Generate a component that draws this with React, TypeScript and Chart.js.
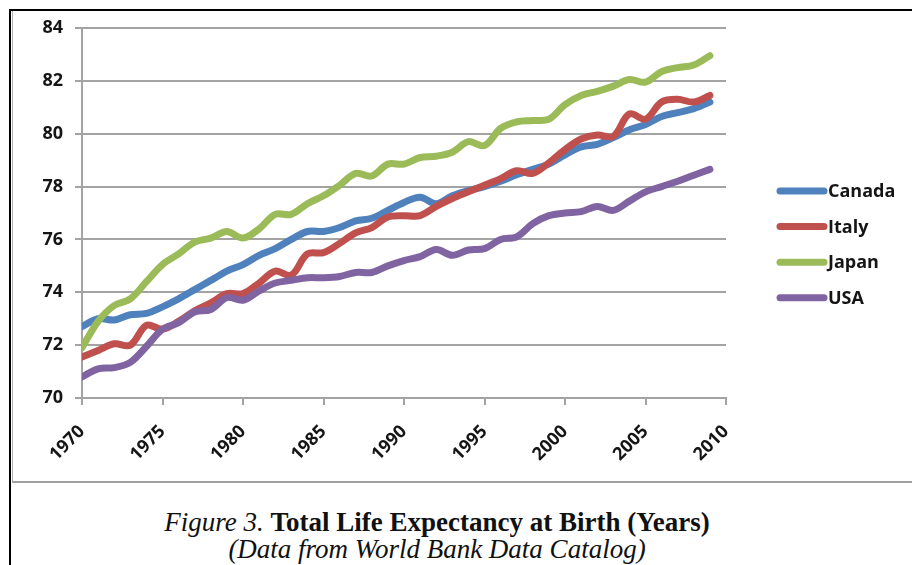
import React, { useEffect, useRef } from "react";
import { Chart, registerables } from "chart.js";

Chart.register(...registerables);

const years = [
  1970, 1971, 1972, 1973, 1974, 1975, 1976, 1977, 1978, 1979,
  1980, 1981, 1982, 1983, 1984, 1985, 1986, 1987, 1988, 1989,
  1990, 1991, 1992, 1993, 1994, 1995, 1996, 1997, 1998, 1999,
  2000, 2001, 2002, 2003, 2004, 2005, 2006, 2007, 2008, 2009,
];

const canada = [
  72.7, 73.0, 72.95, 73.15, 73.2, 73.45, 73.75, 74.1, 74.45, 74.8,
  75.05, 75.4, 75.65, 76.0, 76.3, 76.3, 76.45, 76.7, 76.8, 77.1,
  77.4, 77.6, 77.35, 77.65, 77.85, 78.0, 78.2, 78.45, 78.65, 78.85,
  79.2, 79.5, 79.6, 79.85, 80.15, 80.35, 80.65, 80.8, 80.95, 81.2,
];

const italy = [
  71.55, 71.8, 72.05, 72.0, 72.75, 72.6, 72.9, 73.3, 73.6, 73.95,
  73.95, 74.35, 74.8, 74.65, 75.45, 75.5, 75.85, 76.25, 76.45, 76.85,
  76.9, 76.9, 77.25, 77.55, 77.8, 78.05, 78.3, 78.6, 78.5, 78.9,
  79.4, 79.8, 79.95, 79.9, 80.75, 80.55, 81.2, 81.3, 81.2, 81.45,
];

const japan = [
  71.9, 72.9, 73.5, 73.75, 74.4, 75.05, 75.45, 75.9, 76.05, 76.3,
  76.05, 76.4, 76.95, 76.95, 77.35, 77.65, 78.05, 78.5, 78.4, 78.85,
  78.85, 79.1, 79.15, 79.3, 79.7, 79.55, 80.2, 80.45, 80.5, 80.55,
  81.1, 81.45, 81.6, 81.8, 82.05, 81.95, 82.35, 82.5, 82.6, 82.95,
];

const usa = [
  70.8, 71.1, 71.15, 71.35, 71.95, 72.6, 72.85, 73.25, 73.35, 73.8,
  73.7, 74.05, 74.35, 74.45, 74.55, 74.55, 74.6, 74.75, 74.75, 75.0,
  75.2, 75.35, 75.62, 75.4, 75.6, 75.65, 76.0, 76.1, 76.6, 76.9,
  77.0, 77.05, 77.25, 77.1, 77.45, 77.8, 78.0, 78.2, 78.43, 78.65,
];

const seriesNames = ["Canada", "Italy", "Japan", "USA"];
const seriesColors = ["#4F81BD", "#C0504D", "#9BBB59", "#8064A2"];
const seriesValues = [canada, italy, japan, usa];

const xTicks = [1970, 1975, 1980, 1985, 1990, 1995, 2000, 2005, 2010];
const yTicks = [70, 72, 74, 76, 78, 80, 82, 84];

const GRID = "#a3a3a3";
const TEXT = "#151515";
const FONT = "'Open Sans', 'DejaVu Sans', sans-serif";

const sideLegend = {
  id: "sideLegend",
  afterDraw(chart: any) {
    const ctx = chart.ctx;
    ctx.save();
    chart.data.datasets.forEach((ds: any, i: number) => {
      const y = 179 + i * 35.6;
      ctx.strokeStyle = ds.borderColor;
      ctx.lineWidth = 7;
      ctx.lineCap = "round";
      ctx.beginPath();
      ctx.moveTo(766, y);
      ctx.lineTo(810, y);
      ctx.stroke();
      ctx.fillStyle = TEXT;
      ctx.font = `bold 18px ${FONT}`;
      ctx.textBaseline = "middle";
      ctx.textAlign = "left";
      ctx.fillText(ds.label, 814, y + 1);
    });
    ctx.restore();
  },
};

export default function App() {
  const canvasRef = useRef<HTMLCanvasElement | null>(null);

  useEffect(() => {
    if (!canvasRef.current) return;
    const datasets = seriesNames.map((name, i) => ({
      label: name,
      data: years.map((yr, j) => ({ x: yr, y: seriesValues[i][j] })),
      borderColor: seriesColors[i],
      backgroundColor: seriesColors[i],
      borderWidth: 7,
      pointRadius: 0,
      pointHoverRadius: 0,
      tension: 0.35,
      fill: false,
      borderCapStyle: "round" as const,
      borderJoinStyle: "round" as const,
      order: seriesNames.length - i,
    }));

    const chart = new Chart(canvasRef.current, {
      type: "line",
      data: { datasets },
      options: {
        animation: false,
        responsive: false,
        maintainAspectRatio: false,
        devicePixelRatio: 1,
        layout: { padding: { top: 16, right: 186, bottom: 0, left: 0 } },
        plugins: {
          legend: { display: false },
          tooltip: { enabled: false },
          title: { display: false },
        },
        scales: {
          x: {
            type: "linear",
            min: xTicks[0],
            max: xTicks[xTicks.length - 1],
            afterBuildTicks: (scale: any) => {
              scale.ticks = xTicks.map((v) => ({ value: v }));
            },
            afterFit: (scale: any) => {
              scale.height = 84;
              scale.paddingLeft = 0;
              scale.paddingRight = 0;
              scale.paddingTop = 0;
              scale.paddingBottom = 0;
            },
            ticks: {
              maxRotation: 45,
              minRotation: 45,
              padding: 16,
              color: TEXT,
              font: { family: FONT, size: 18, weight: "bold" },
              callback: (v: any) => String(v),
            },
            grid: {
              drawOnChartArea: false,
              drawTicks: true,
              tickLength: 7,
              color: GRID,
              lineWidth: 2,
            },
            border: { display: true, color: GRID, width: 2 },
          },
          y: {
            min: yTicks[0],
            max: yTicks[yTicks.length - 1],
            afterBuildTicks: (scale: any) => {
              scale.ticks = yTicks.map((v) => ({ value: v }));
            },
            afterFit: (scale: any) => {
              scale.width = 68;
              scale.paddingTop = 0;
              scale.paddingBottom = 0;
              scale.paddingLeft = 0;
              scale.paddingRight = 0;
            },
            ticks: {
              padding: 12,
              color: TEXT,
              font: { family: FONT, size: 18, weight: "bold" },
              callback: (v: any) => String(v),
            },
            grid: {
              drawTicks: true,
              tickLength: 7,
              color: GRID,
              lineWidth: 2,
            },
            border: { display: true, color: GRID, width: 2 },
          },
        },
      },
      plugins: [sideLegend],
    });
    return () => chart.destroy();
  }, []);

  return (
    <div
      style={{
        position: "absolute",
        left: 0,
        top: 0,
        width: 912,
        height: 565,
        overflow: "hidden",
        background: "#fff",
      }}
    >
      <div style={{ position: "absolute", left: 9, top: 9, width: 903, height: 2, background: "#000" }} />
      <div style={{ position: "absolute", left: 9, top: 9, width: 2, height: 556, background: "#000" }} />
      <div
        style={{
          position: "absolute",
          left: 12,
          top: 11,
          width: 900,
          height: 472,
          borderLeft: "1px solid #b0b0b0",
          borderBottom: "2px solid #a0a0a0",
          boxSizing: "border-box",
        }}
      />
      <canvas
        ref={canvasRef}
        width={898}
        height={470}
        style={{ position: "absolute", left: 14, top: 12, width: 898, height: 470 }}
      />
      <div
        style={{
          position: "absolute",
          left: 0,
          top: 509,
          width: 874,
          textAlign: "center",
          fontFamily: "'Liberation Serif', 'Times New Roman', serif",
          fontSize: 27,
          lineHeight: "27px",
          color: "#111",
        }}
      >
        <div>
          <i>Figure 3.</i> <b>Total Life Expectancy at Birth (Years)</b>
        </div>
        <div>
          <i>(Data from World Bank Data Catalog)</i>
        </div>
      </div>
    </div>
  );
}
